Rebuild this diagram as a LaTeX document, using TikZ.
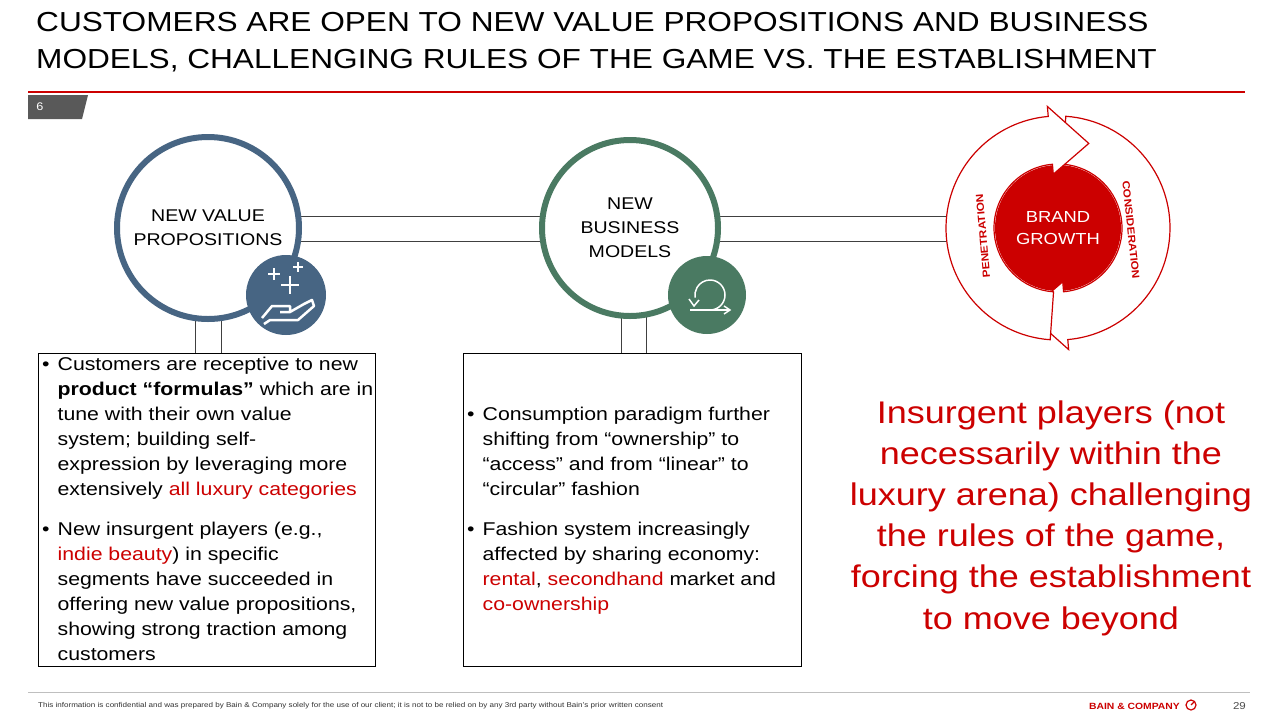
\documentclass[tikz,border=0pt]{standalone}
\usepackage{fontspec}
\setmainfont[FakeStretch=1.15]{Liberation Sans}
\begin{document}
\begin{tikzpicture}[x=1pt,y=-1pt,
  body/.style={anchor=north west,align=left,font=\fontsize{18.5}{25}\selectfont,inner sep=0pt},
  conn/.style={draw=black!75,line width=0.7pt}]
\definecolor{bred}{HTML}{CC0000}
\definecolor{bblue}{HTML}{476583}
\definecolor{bgreen}{HTML}{4A7A62}
\useasboundingbox (0,0) rectangle (1280,721);
\fill[white] (0,0) rectangle (1280,721);
% title
\node[anchor=north west,align=left,inner sep=0pt,font=\fontsize{27.5}{37}\selectfont] (title) at (36,12) {CUSTOMERS ARE OPEN TO NEW VALUE PROPOSITIONS AND BUSINESS\\MODELS, CHALLENGING RULES OF THE GAME VS. THE ESTABLISHMENT};
\draw[bred,line width=1.2pt] (28,92) -- (1245,92);
\fill[black!65] (28,95) -- (88,95) -- (82,119) -- (28,119) -- cycle;
\node[white,font=\fontsize{11}{13}\selectfont] (pg) at (40,107) {6};
% connectors
\coordinate (rl) at (950,216); \coordinate (rl2) at (950,241);
\draw[conn] (300,216) -- (rl); \draw[conn] (300,241) -- (rl2);
\draw[conn] (195,320) -- (195,353); \draw[conn] (221,320) -- (221,353);
\draw[conn] (621,315) -- (621,353); \draw[conn] (646,315) -- (646,353);
% circles
\node[circle,draw=bblue,line width=6pt,fill=white,minimum size=182pt,align=center,font=\fontsize{17}{24}\selectfont] (nvp) at (208,228) {NEW VALUE\\PROPOSITIONS};
\node[circle,draw=bgreen,line width=6pt,fill=white,minimum size=176pt,align=center,font=\fontsize{17}{24}\selectfont] (nbm) at (630,228) {NEW\\BUSINESS\\MODELS};
\node[circle,fill=bblue,minimum size=80pt] (ic1) at (286,295) {};
\node[circle,fill=bgreen,minimum size=78pt] (ic2) at (707,295) {};
% icon 1: pluses and hand
\begin{scope}[white,line width=2.5pt]
\draw (274,268)--(274,280) (268,274)--(280,274);
\draw (290,276)--(290,294) (281,285)--(299,285);
\draw (298,262)--(298,272) (293,267)--(303,267);
\end{scope}
\draw[white,line width=2.5pt,line join=round] (262,318) -- (272,306) -- (290,306) -- (290,312) -- (280,312) (290,312) -- (304,304) -- (312,300) -- (314,306) -- (298,320) -- (270,320) -- (264,324);
% icon 2: loop arrow
\draw[white,line width=1.5pt] (690,310) -- (729,310);
\draw[white,line width=1.5pt] (724,306) -- (730,310) -- (724,314);
\draw[white,line width=1.5pt] (710,310) arc[start angle=90,end angle=-190,radius=15];
\draw[white,line width=1.5pt] (689,299) -- (694,306) -- (699,300);
% brand growth ring
\fill[bred] (1058,228) circle[radius=63];
\begin{scope}[shift={(1058,228)},x=1pt,y=1pt]
\foreach \r in {180,0}{
\filldraw[rotate=\r,fill=white,draw=bred,line width=1.2pt] (266:112) arc[start angle=266,end angle=95,radius=112] -- (95:122) -- (70:90) -- (95:54) -- (95:64) arc[start angle=95,end angle=266,radius=64] -- cycle;}
\end{scope}
\node[text=white,align=center,font=\fontsize{16}{22}\selectfont] (bg) at (1058,228) {BRAND\\GROWTH};
\node[bred,rotate=95,font=\fontsize{10.3}{11}\bfseries] (pen) at (983,236) {PENETRATION};
\node[bred,rotate=-84,font=\fontsize{10.3}{11}\bfseries] (con) at (1131,230) {CONSIDERATION};
% boxes
\draw[black,line width=0.8pt] (38,353) rectangle (375,666);
\draw[black,line width=0.8pt] (463,353) rectangle (801,666);
\node[body] (t1) at (42,353) {\begin{tabular}{@{}l@{\hspace{8pt}}l@{}}•&Customers are receptive to new\\&\textbf{product “formulas”} which are in\\&tune with their own value\\&system; building self-\\&expression by leveraging more\\&extensively \textcolor{bred}{all luxury categories}\end{tabular}};
\node[body] (t2) at (42,518) {\begin{tabular}{@{}l@{\hspace{8pt}}l@{}}•&New insurgent players (e.g.,\\&\textcolor{bred}{indie beauty}) in specific\\&segments have succeeded in\\&offering new value propositions,\\&showing strong traction among\\&customers\end{tabular}};
\node[body] (t3) at (467,403) {\begin{tabular}{@{}l@{\hspace{8pt}}l@{}}•&Consumption paradigm further\\&shifting from “ownership” to\\&“access” and from “linear” to\\&“circular” fashion\end{tabular}};
\node[body] (t4) at (467,518) {\begin{tabular}{@{}l@{\hspace{8pt}}l@{}}•&Fashion system increasingly\\&affected by sharing economy:\\&\textcolor{bred}{rental}, \textcolor{bred}{secondhand} market and\\&\textcolor{bred}{co-ownership}\end{tabular}};
% red statement
\node[bred,align=center,font=\fontsize{31.3}{41.2}\selectfont] (ins) at (1051,518) {Insurgent players (not\\necessarily within the\\luxury arena) challenging\\the rules of the game,\\forcing the establishment\\to move beyond};
% footer
\draw[black!25,line width=0.8pt] (28,692) -- (1250,692);
\node[anchor=west,inner sep=0pt,font=\fontsize{7}{8}\selectfont,text=black!80] (foot) at (38,706) {This information is confidential and was prepared by Bain \& Company solely for the use of our client; it is not to be relied on by any 3rd party without Bain's prior written consent};
\node[anchor=east,inner sep=0pt,bred,font=\fontsize{9}{10}\bfseries] (bain) at (1180,706) {BAIN \& COMPANY};
\node[circle,draw=bred,line width=1.2pt,inner sep=0pt,minimum size=10pt] (logo) at (1191,705) {};
\draw[bred,line width=1.2pt] (logo.center) -- ++(3,-3);
\node[anchor=east,inner sep=0pt,font=\fontsize{10}{12}\selectfont,text=black!70] (pn) at (1246,706) {29};
\end{tikzpicture}
\end{document}
